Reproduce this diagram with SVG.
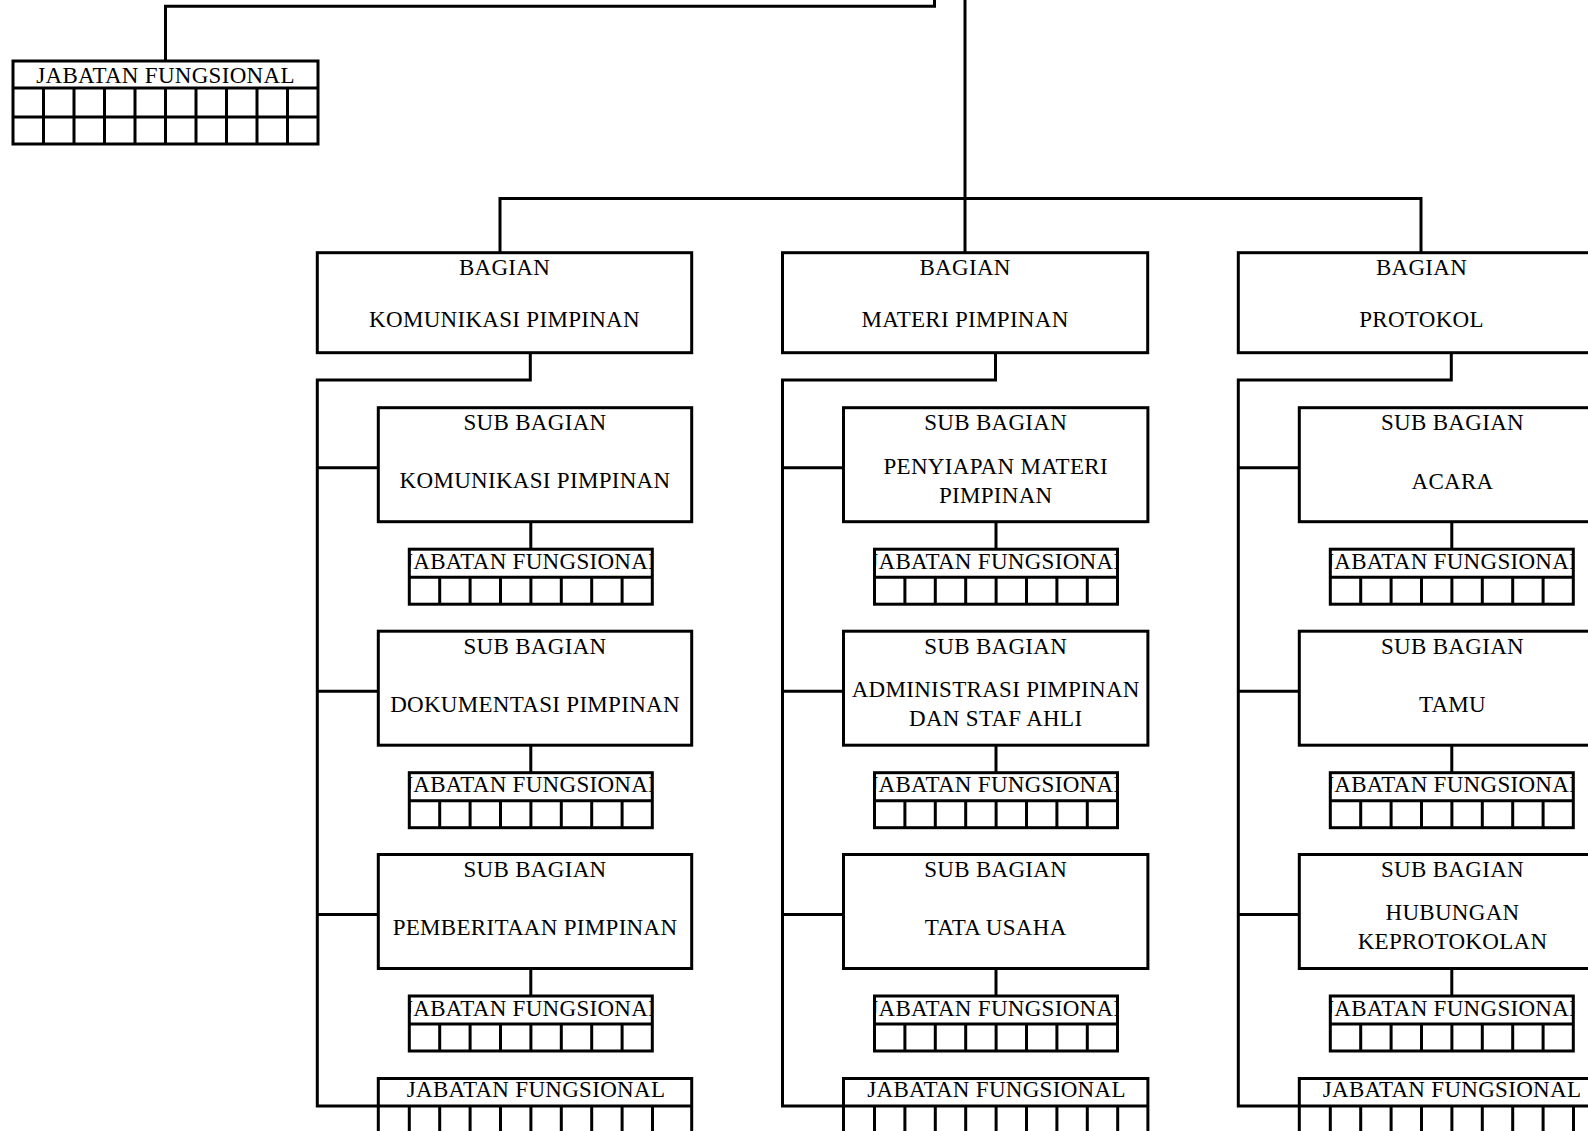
<svg xmlns="http://www.w3.org/2000/svg" xmlns:xlink="http://www.w3.org/1999/xlink" width="1588" height="1131" viewBox="0 0 1588 1131">
<style>
.b{fill:#fff;stroke:#000;stroke-width:3}
.l{fill:none;stroke:#000;stroke-width:3}
.t{font-family:"Liberation Serif","Times New Roman",serif;font-size:23px;letter-spacing:0.3px;text-anchor:middle;fill:#000}
</style>
<defs>
<g id="sgrid">
<rect class="b" x="0" y="0" width="243" height="55"/>
<path class="l" d="M0 28H243M30.4 28V55M60.8 28V55M91.2 28V55M121.6 28V55M152 28V55M182.4 28V55M212.8 28V55"/>
</g>
</defs>
<rect width="1588" height="1131" fill="#fff"/>

<g id="connectors">
<path class="l" d="M934.5 0V6.2H165.5V61"/>
<path class="l" d="M965 0V252.7"/>
<path class="l" d="M500 252.7V198.5H1421V252.7"/>
<path class="l" d="M530.3 352.7V380H317.3V1106H378.3"/>
<path class="l" d="M995.5 352.7V380H782.5V1106H843.5"/>
<path class="l" d="M1451.3 352.7V380H1238.3V1106H1299.3"/>
<path class="l" d="M317.3 467.7H378.3M317.3 691.2H378.3M317.3 914.5H378.3"/>
<path class="l" d="M782.5 467.7H843.5M782.5 691.2H843.5M782.5 914.5H843.5"/>
<path class="l" d="M1238.3 467.7H1299.3M1238.3 691.2H1299.3M1238.3 914.5H1299.3"/>
<path class="l" d="M530.8 521.7V549.2M530.8 745.2V772.7M530.8 968.5V996"/>
<path class="l" d="M996 521.7V549.2M996 745.2V772.7M996 968.5V996"/>
<path class="l" d="M1451.8 521.7V549.2M1451.8 745.2V772.7M1451.8 968.5V996"/>
</g>

<g id="jf-top">
<rect class="b" x="13" y="61" width="305" height="83"/>
<path class="l" d="M13 88H318M13 117H318M43.5 88V144M74 88V144M104.5 88V144M135 88V144M165.5 88V144M196 88V144M226.5 88V144M257 88V144M287.5 88V144"/>
<text class="t" x="165.5" y="82.7">JABATAN FUNGSIONAL</text>
</g>

<!-- Column 1 -->
<g id="bagian-komunikasi">
<rect class="b" x="317.3" y="252.7" width="374.4" height="100"/>
<text class="t" x="504.5" y="275">BAGIAN</text>
<text class="t" x="504.5" y="327.3">KOMUNIKASI PIMPINAN</text>
</g>
<g id="sub-komunikasi">
<rect class="b" x="378.3" y="407.7" width="313.4" height="114"/>
<text class="t" x="535" y="430">SUB BAGIAN</text>
<text class="t" x="535" y="488.2">KOMUNIKASI PIMPINAN</text>
</g>
<g id="jf-komunikasi">
<use xlink:href="#sgrid" x="409.3" y="549.2"/>
<svg x="409.3" y="549.2" width="243" height="28" overflow="hidden"><text class="t" x="124" y="19.5">JABATAN FUNGSIONAL</text></svg>
</g>
<g id="sub-dokumentasi">
<rect class="b" x="378.3" y="631.2" width="313.4" height="114"/>
<text class="t" x="535" y="653.5">SUB BAGIAN</text>
<text class="t" x="535" y="711.7">DOKUMENTASI PIMPINAN</text>
</g>
<g id="jf-dokumentasi">
<use xlink:href="#sgrid" x="409.3" y="772.7"/>
<svg x="409.3" y="772.7" width="243" height="28" overflow="hidden"><text class="t" x="124" y="19.5">JABATAN FUNGSIONAL</text></svg>
</g>
<g id="sub-pemberitaan">
<rect class="b" x="378.3" y="854.5" width="313.4" height="114"/>
<text class="t" x="535" y="876.8">SUB BAGIAN</text>
<text class="t" x="535" y="935">PEMBERITAAN PIMPINAN</text>
</g>
<g id="jf-pemberitaan">
<use xlink:href="#sgrid" x="409.3" y="996"/>
<svg x="409.3" y="996" width="243" height="28" overflow="hidden"><text class="t" x="124" y="19.5">JABATAN FUNGSIONAL</text></svg>
</g>
<g id="jf-bagian-komunikasi">
<rect class="b" x="378.3" y="1078.5" width="313.4" height="56"/>
<path class="l" d="M378.3 1106H691.7M409.3 1106V1135M439.7 1106V1135M470.1 1106V1135M500.5 1106V1135M530.9 1106V1135M561.3 1106V1135M591.7 1106V1135M622.1 1106V1135M652.5 1106V1135"/>
<text class="t" x="536" y="1097">JABATAN FUNGSIONAL</text>
</g>

<!-- Column 2 -->
<g id="bagian-materi">
<rect class="b" x="782.5" y="252.7" width="365.2" height="100"/>
<text class="t" x="965.1" y="275">BAGIAN</text>
<text class="t" x="965.1" y="327.3">MATERI PIMPINAN</text>
</g>
<g id="sub-penyiapan">
<rect class="b" x="843.5" y="407.7" width="304.4" height="114"/>
<text class="t" x="995.7" y="430">SUB BAGIAN</text>
<text class="t" x="995.7" y="473.7">PENYIAPAN MATERI</text>
<text class="t" x="995.7" y="503.2">PIMPINAN</text>
</g>
<g id="jf-penyiapan">
<use xlink:href="#sgrid" x="874.5" y="549.2"/>
<svg x="874.5" y="549.2" width="243" height="28" overflow="hidden"><text class="t" x="124" y="19.5">JABATAN FUNGSIONAL</text></svg>
</g>
<g id="sub-administrasi">
<rect class="b" x="843.5" y="631.2" width="304.4" height="114"/>
<text class="t" x="995.7" y="653.5">SUB BAGIAN</text>
<text class="t" x="995.7" y="696.5">ADMINISTRASI PIMPINAN</text>
<text class="t" x="995.7" y="726">DAN STAF AHLI</text>
</g>
<g id="jf-administrasi">
<use xlink:href="#sgrid" x="874.5" y="772.7"/>
<svg x="874.5" y="772.7" width="243" height="28" overflow="hidden"><text class="t" x="124" y="19.5">JABATAN FUNGSIONAL</text></svg>
</g>
<g id="sub-tatausaha">
<rect class="b" x="843.5" y="854.5" width="304.4" height="114"/>
<text class="t" x="995.7" y="876.8">SUB BAGIAN</text>
<text class="t" x="995.7" y="935">TATA USAHA</text>
</g>
<g id="jf-tatausaha">
<use xlink:href="#sgrid" x="874.5" y="996"/>
<svg x="874.5" y="996" width="243" height="28" overflow="hidden"><text class="t" x="124" y="19.5">JABATAN FUNGSIONAL</text></svg>
</g>
<g id="jf-bagian-materi">
<rect class="b" x="843.5" y="1078.5" width="304.4" height="56"/>
<path class="l" d="M843.5 1106H1147.9M874.5 1106V1135M904.9 1106V1135M935.3 1106V1135M965.7 1106V1135M996.1 1106V1135M1026.5 1106V1135M1056.9 1106V1135M1087.3 1106V1135M1117.7 1106V1135"/>
<text class="t" x="996.5" y="1097">JABATAN FUNGSIONAL</text>
</g>

<!-- Column 3 -->
<g id="bagian-protokol">
<rect class="b" x="1238.3" y="252.7" width="365.4" height="100"/>
<text class="t" x="1421.5" y="275">BAGIAN</text>
<text class="t" x="1421.5" y="327.3">PROTOKOL</text>
</g>
<g id="sub-acara">
<rect class="b" x="1299.3" y="407.7" width="306" height="114"/>
<text class="t" x="1452.5" y="430">SUB BAGIAN</text>
<text class="t" x="1452.5" y="488.7">ACARA</text>
</g>
<g id="jf-acara">
<use xlink:href="#sgrid" x="1330.3" y="549.2"/>
<svg x="1330.3" y="549.2" width="243" height="28" overflow="hidden"><text class="t" x="124" y="19.5">JABATAN FUNGSIONAL</text></svg>
</g>
<g id="sub-tamu">
<rect class="b" x="1299.3" y="631.2" width="306" height="114"/>
<text class="t" x="1452.5" y="653.5">SUB BAGIAN</text>
<text class="t" x="1452.5" y="712.2">TAMU</text>
</g>
<g id="jf-tamu">
<use xlink:href="#sgrid" x="1330.3" y="772.7"/>
<svg x="1330.3" y="772.7" width="243" height="28" overflow="hidden"><text class="t" x="124" y="19.5">JABATAN FUNGSIONAL</text></svg>
</g>
<g id="sub-hubungan">
<rect class="b" x="1299.3" y="854.5" width="306" height="114"/>
<text class="t" x="1452.5" y="876.8">SUB BAGIAN</text>
<text class="t" x="1452.5" y="920.2">HUBUNGAN</text>
<text class="t" x="1452.5" y="948.7">KEPROTOKOLAN</text>
</g>
<g id="jf-hubungan">
<use xlink:href="#sgrid" x="1330.3" y="996"/>
<svg x="1330.3" y="996" width="243" height="28" overflow="hidden"><text class="t" x="124" y="19.5">JABATAN FUNGSIONAL</text></svg>
</g>
<g id="jf-bagian-protokol">
<rect class="b" x="1299.3" y="1078.5" width="306" height="56"/>
<path class="l" d="M1299.3 1106H1605.3M1330.3 1106V1135M1360.7 1106V1135M1391.1 1106V1135M1421.5 1106V1135M1451.9 1106V1135M1482.3 1106V1135M1512.7 1106V1135M1543.1 1106V1135M1573.5 1106V1135"/>
<text class="t" x="1452" y="1097">JABATAN FUNGSIONAL</text>
</g>
</svg>
